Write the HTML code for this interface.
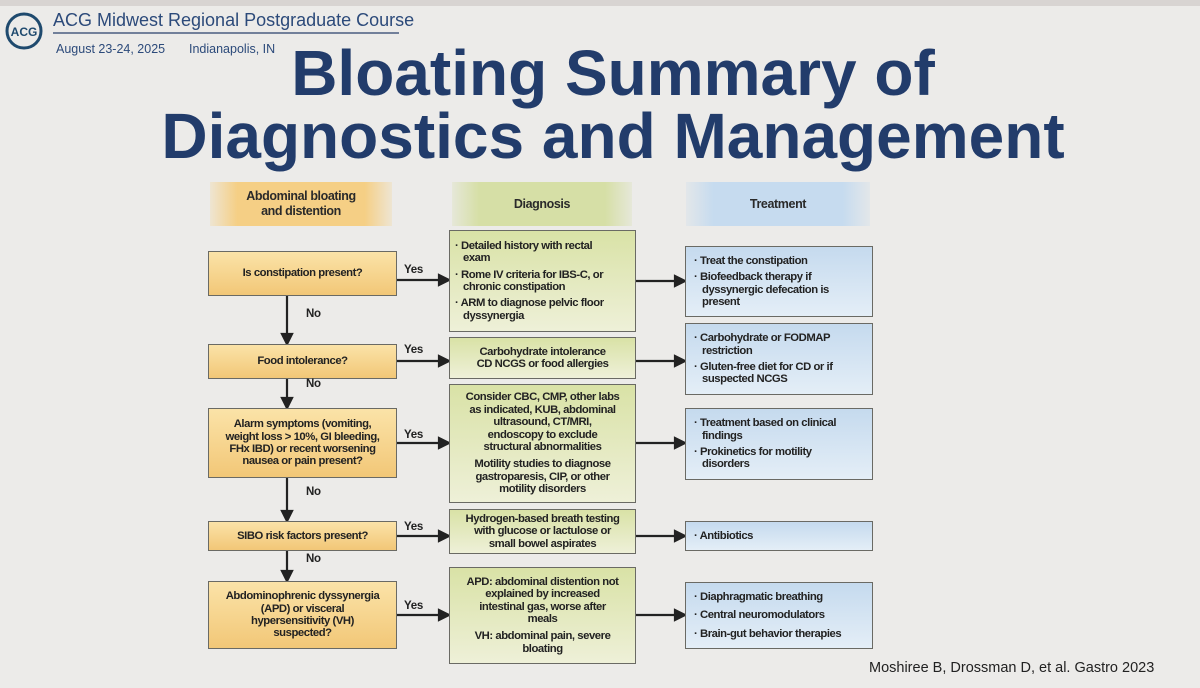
<!DOCTYPE html>
<html><head><meta charset="utf-8"><style>
body{margin:0;width:1200px;height:688px;background:#ecebe9;position:relative;overflow:hidden;font-family:"Liberation Sans",sans-serif}
.b{position:absolute;box-sizing:border-box;border:1.5px solid #6a6a64;font-family:"Liberation Sans",sans-serif;font-weight:bold;font-size:11.3px;letter-spacing:-0.45px;line-height:12.4px;color:#222;display:flex;flex-direction:column;justify-content:center}
.o{background:linear-gradient(#fbe3a8,#f2c777);text-align:center;align-items:center}
.g{background:linear-gradient(#d9e2a6,#eef0d8);text-align:center;padding:0 5px}
.t{background:linear-gradient(#c5daee,#e4eef7);padding:0 8px}
.l p{margin:2px 0;padding-left:8px;text-indent:-8px;text-align:left}
.h{position:absolute;height:44px;font-family:"Liberation Sans",sans-serif;font-weight:bold;font-size:12.5px;letter-spacing:-0.4px;line-height:15px;color:#2a2a2a;display:flex;align-items:center;justify-content:center;text-align:center}
.lab{position:absolute;font-family:"Liberation Sans",sans-serif;font-weight:bold;font-size:11.5px;letter-spacing:-0.3px;color:#222}
.title{position:absolute;left:0;width:1226px;text-align:center;font-weight:bold;font-size:64px;color:#223c6b;line-height:64px}
</style></head><body>
<div style="position:absolute;left:0;top:0;width:1200px;height:6px;background:#d8d4d2"></div>
<svg style="position:absolute;left:0;top:0" width="1200" height="688">
<circle cx="24" cy="31" r="17" fill="none" stroke="#1f4a6e" stroke-width="3"/>
<text x="24" y="36" text-anchor="middle" font-family="Liberation Sans" font-weight="bold" font-size="12" fill="#1f4a6e">ACG</text>
<line x1="53" y1="33" x2="399" y2="33" stroke="#4a5c80" stroke-width="1.5"/>
<g stroke="#222" stroke-width="2.2" fill="#222">
<line x1="396" y1="280" x2="440" y2="280"/><polygon points="449,280 439,275 439,285"/>
<line x1="396" y1="361" x2="440" y2="361"/><polygon points="449,361 439,356 439,366"/>
<line x1="396" y1="443" x2="440" y2="443"/><polygon points="449,443 439,438 439,448"/>
<line x1="396" y1="536" x2="440" y2="536"/><polygon points="449,536 439,531 439,541"/>
<line x1="396" y1="615" x2="440" y2="615"/><polygon points="449,615 439,610 439,620"/>
<line x1="635" y1="281" x2="676" y2="281"/><polygon points="685,281 675,276 675,286"/>
<line x1="635" y1="361" x2="676" y2="361"/><polygon points="685,361 675,356 675,366"/>
<line x1="635" y1="443" x2="676" y2="443"/><polygon points="685,443 675,438 675,448"/>
<line x1="635" y1="536" x2="676" y2="536"/><polygon points="685,536 675,531 675,541"/>
<line x1="635" y1="615" x2="676" y2="615"/><polygon points="685,615 675,610 675,620"/>
<line x1="287" y1="295" x2="287" y2="335"/><polygon points="287,344 282,334 292,334"/>
<line x1="287" y1="378" x2="287" y2="399"/><polygon points="287,408 282,398 292,398"/>
<line x1="287" y1="477" x2="287" y2="512"/><polygon points="287,521 282,511 292,511"/>
<line x1="287" y1="550" x2="287" y2="572"/><polygon points="287,581 282,571 292,571"/>
</g></svg>
<div style="position:absolute;left:53px;top:10px;font-size:18px;color:#2c4a7a">ACG Midwest Regional Postgraduate Course</div>
<div style="position:absolute;left:56px;top:42px;font-size:12.5px;color:#2c4a7a">August 23-24, 2025</div>
<div style="position:absolute;left:189px;top:42px;font-size:12.5px;color:#2c4a7a">Indianapolis, IN</div>
<div class="title" style="top:41px">Bloating Summary of</div>
<div class="title" style="top:104px">Diagnostics and Management</div>

<div class="h" style="left:210px;top:182px;width:182px;background:linear-gradient(90deg,rgba(246,205,120,.2),#f5cf85 15%,#f5cf85 85%,rgba(246,205,120,.2))">Abdominal bloating<br>and distention</div>
<div class="h" style="left:452px;top:182px;width:180px;background:linear-gradient(90deg,rgba(205,218,150,.2),#d6dfa6 15%,#d6dfa6 85%,rgba(205,218,150,.2))">Diagnosis</div>
<div class="h" style="left:686px;top:182px;width:184px;background:linear-gradient(90deg,rgba(190,214,236,.2),#c6dbef 15%,#c6dbef 85%,rgba(190,214,236,.2))">Treatment</div>

<div class="b o" style="left:208px;top:251px;width:189px;height:45px">Is constipation present?</div>
<div class="b o" style="left:208px;top:344px;width:189px;height:35px">Food intolerance?</div>
<div class="b o" style="left:208px;top:408px;width:189px;height:70px">Alarm symptoms (vomiting,<br>weight loss &gt; 10%, GI bleeding,<br>FHx IBD) or recent worsening<br>nausea or pain present?</div>
<div class="b o" style="left:208px;top:521px;width:189px;height:30px">SIBO risk factors present?</div>
<div class="b o" style="left:208px;top:581px;width:189px;height:68px">Abdominophrenic dyssynergia<br>(APD) or visceral<br>hypersensitivity (VH)<br>suspected?</div>

<div class="b g l" style="left:449px;top:230px;width:187px;height:102px"><p>· Detailed history with rectal<br>exam</p><p>· Rome IV criteria for IBS-C, or<br>chronic constipation</p><p>· ARM to diagnose pelvic floor<br>dyssynergia</p></div>
<div class="b g" style="left:449px;top:337px;width:187px;height:42px">Carbohydrate intolerance<br>CD NCGS or food allergies</div>
<div class="b g" style="left:449px;top:384px;width:187px;height:119px">Consider CBC, CMP, other labs<br>as indicated, KUB, abdominal<br>ultrasound, CT/MRI,<br>endoscopy to exclude<br>structural abnormalities<div style="height:5px"></div>Motility studies to diagnose<br>gastroparesis, CIP, or other<br>motility disorders</div>
<div class="b g" style="left:449px;top:509px;width:187px;height:45px">Hydrogen-based breath testing<br>with glucose or lactulose or<br>small bowel aspirates</div>
<div class="b g" style="left:449px;top:567px;width:187px;height:97px">APD: abdominal distention not<br>explained by increased<br>intestinal gas, worse after<br>meals<div style="height:5px"></div>VH: abdominal pain, severe<br>bloating</div>

<div class="b t l" style="left:685px;top:246px;width:188px;height:71px"><p>· Treat the constipation</p><p>· Biofeedback therapy if<br>dyssynergic defecation is<br>present</p></div>
<div class="b t l" style="left:685px;top:323px;width:188px;height:72px"><p>· Carbohydrate or FODMAP<br>restriction</p><p>· Gluten-free diet for CD or if<br>suspected NCGS</p></div>
<div class="b t l" style="left:685px;top:408px;width:188px;height:72px"><p>· Treatment based on clinical<br>findings</p><p>· Prokinetics for motility<br>disorders</p></div>
<div class="b t l" style="left:685px;top:521px;width:188px;height:30px"><p>· Antibiotics</p></div>
<div class="b t l" style="left:685px;top:582px;width:188px;height:67px"><p style="margin:3px 0">· Diaphragmatic breathing</p><p style="margin:3px 0">· Central neuromodulators</p><p style="margin:3px 0">· Brain-gut behavior therapies</p></div>

<div class="lab" style="left:404px;top:264px">Yes</div>
<div class="lab" style="left:404px;top:344px">Yes</div>
<div class="lab" style="left:404px;top:429px">Yes</div>
<div class="lab" style="left:404px;top:521px">Yes</div>
<div class="lab" style="left:404px;top:600px">Yes</div>
<div class="lab" style="left:306px;top:308px">No</div>
<div class="lab" style="left:306px;top:378px">No</div>
<div class="lab" style="left:306px;top:486px">No</div>
<div class="lab" style="left:306px;top:553px">No</div>
<div style="position:absolute;left:869px;top:660px;font-size:14.5px;color:#222">Moshiree B, Drossman D, et al. Gastro 2023</div>
</body></html>
